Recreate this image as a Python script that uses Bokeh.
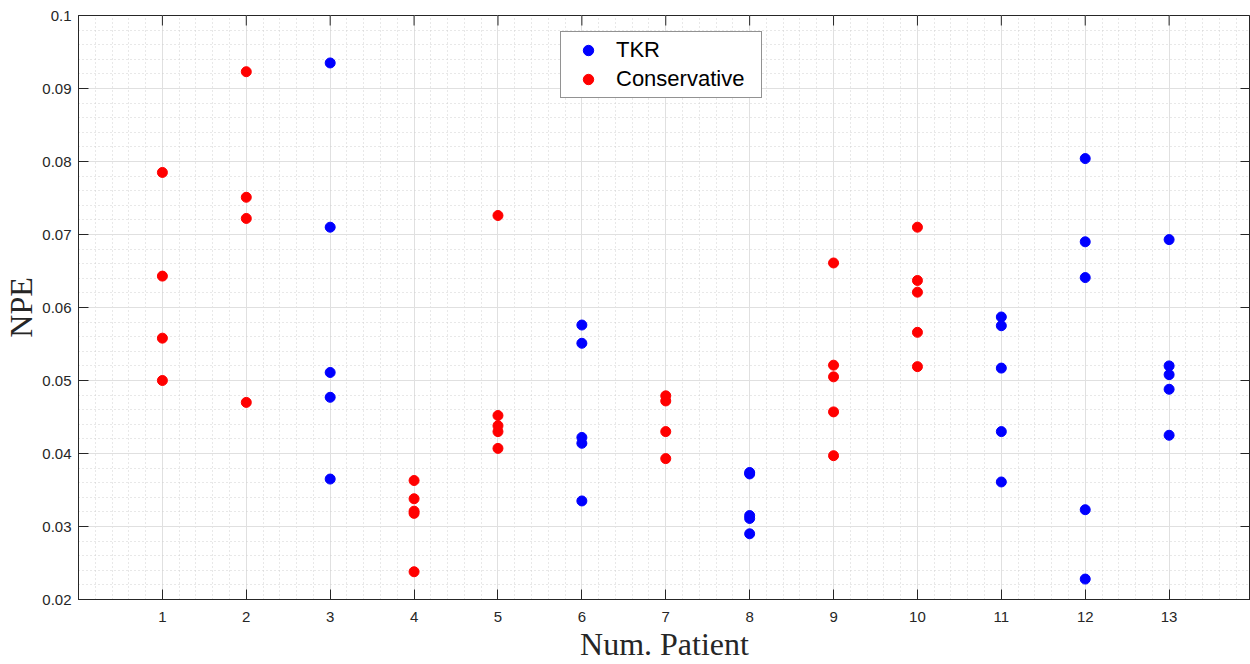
import math
from bokeh.plotting import figure
from bokeh.models import (ColumnDataSource, FixedTicker, Legend,
                          LegendItem, CustomJSTickFormatter, Range1d)
from bokeh.embed import file_html
from bokeh.resources import INLINE

# NPE values per patient, two treatment groups
tkr_patient = [3, 3, 3, 3, 3,
               6, 6, 6, 6, 6,
               8, 8, 8, 8, 8,
               11, 11, 11, 11, 11,
               12, 12, 12, 12, 12,
               13, 13, 13, 13, 13]
tkr_npe = [0.0935, 0.0710, 0.0511, 0.0477, 0.0365,
           0.0576, 0.0551, 0.0422, 0.0414, 0.0335,
           0.0374, 0.0372, 0.0315, 0.0311, 0.0290,
           0.0587, 0.0575, 0.0517, 0.0430, 0.0361,
           0.0804, 0.0690, 0.0641, 0.0323, 0.0228,
           0.0693, 0.0520, 0.0508, 0.0488, 0.0425]

cons_patient = [1, 1, 1, 1,
                2, 2, 2, 2,
                4, 4, 4, 4, 4,
                5, 5, 5, 5, 5,
                7, 7, 7, 7,
                9, 9, 9, 9, 9,
                10, 10, 10, 10, 10]
cons_npe = [0.0785, 0.0643, 0.0558, 0.0500,
            0.0923, 0.0751, 0.0722, 0.0470,
            0.0363, 0.0338, 0.0321, 0.0318, 0.0238,
            0.0726, 0.0452, 0.0438, 0.0430, 0.0407,
            0.0479, 0.0472, 0.0430, 0.0393,
            0.0661, 0.0521, 0.0505, 0.0457, 0.0397,
            0.0710, 0.0637, 0.0621, 0.0566, 0.0519]

x_ticks = list(range(1, 14))
y_ticks = [0.02, 0.03, 0.04, 0.05, 0.06, 0.07, 0.08, 0.09, 0.1]

X_MIN, X_MAX = 0, 13.97
Y_MIN, Y_MAX = 0.02, 0.1

AX = "#262626"
TICK_FONT = "Liberation Sans"
LABEL_FONT = "Liberation Serif"

p = figure(width=1250, height=664, output_backend="svg", toolbar_location=None,
           x_range=Range1d(X_MIN, X_MAX), y_range=Range1d(Y_MIN, Y_MAX),
           min_border_left=0, min_border_right=0, min_border_top=15,
           min_border_bottom=0, x_axis_label="Num. Patient", y_axis_label="NPE")
p.background_fill_color = "white"
p.border_fill_color = "white"
p.outline_line_color = AX
p.outline_line_width = 1

x_minor = [round(i * 0.2, 4) for i in range(0, 71)]
y_minor = [round(0.02 + i * 0.002, 4) for i in range(0, 41)]
xt = FixedTicker(ticks=x_ticks, minor_ticks=x_minor)
yt = FixedTicker(ticks=y_ticks, minor_ticks=y_minor)

fmt = CustomJSTickFormatter(code="""
    let s = tick.toFixed(2);
    if (s.indexOf('.') >= 0) { s = s.replace(/0+$/, '').replace(/\\.$/, ''); }
    return s;
""")

for ax in (p.xaxis[0], p.yaxis[0]):
    ax.axis_line_color = AX
    ax.major_tick_line_color = AX
    ax.major_tick_in = 10
    ax.major_tick_out = 0
    ax.minor_tick_in = 0
    ax.minor_tick_out = 0
    ax.major_label_text_font = TICK_FONT
    ax.major_label_text_color = AX
    ax.major_label_text_font_size = "15px"
    ax.axis_label_text_font = LABEL_FONT
    ax.axis_label_text_font_size = "32px"
    ax.axis_label_text_font_style = "normal"
    ax.axis_label_text_color = AX

p.xaxis.ticker = xt
p.yaxis.ticker = yt
p.yaxis.formatter = fmt
p.xaxis.major_label_standoff = 12
p.yaxis.major_label_standoff = 7
p.xaxis.axis_label_standoff = 1
p.yaxis.axis_label_standoff = 0

# inward tick marks along the top and right edges of the box
p.ray(x=x_ticks, y=[Y_MAX] * len(x_ticks), length=10, length_units="screen",
      angle=-math.pi / 2, line_color=AX, line_width=1)
p.ray(x=[X_MAX] * len(y_ticks), y=y_ticks, length=10, length_units="screen",
      angle=math.pi, line_color=AX, line_width=1)

for g, tk in ((p.xgrid[0], xt), (p.ygrid[0], yt)):
    g.ticker = tk
    g.grid_line_color = "#e0e0e0"
    g.grid_line_width = 1
    g.minor_grid_line_color = "#d0d0d0"
    g.minor_grid_line_dash = "1 3"
    g.minor_grid_line_width = 1

src_tkr = ColumnDataSource(dict(x=tkr_patient, y=tkr_npe))
src_cons = ColumnDataSource(dict(x=cons_patient, y=cons_npe))
r_tkr = p.scatter("x", "y", source=src_tkr, size=10, color="#0000ff", line_color="#0000ff")
r_cons = p.scatter("x", "y", source=src_cons, size=10, color="#ff0000", line_color="#ff0000")

legend = Legend(items=[LegendItem(label="TKR", renderers=[r_tkr]),
                       LegendItem(label="Conservative", renderers=[r_cons])],
                location=(482, 501))
legend.label_text_font = TICK_FONT
legend.label_text_font_size = "22px"
legend.label_text_color = "black"
legend.padding = 5
legend.spacing = 3
legend.margin = 0
legend.glyph_width = 44
legend.glyph_height = 26
legend.label_height = 26
legend.label_width = 140
legend.label_standoff = 6
legend.border_line_color = "#262626"
legend.border_line_width = 1
legend.background_fill_color = "white"
legend.background_fill_alpha = 1
p.add_layout(legend, "center")

open("out.html", "w").write(file_html(p, INLINE))
